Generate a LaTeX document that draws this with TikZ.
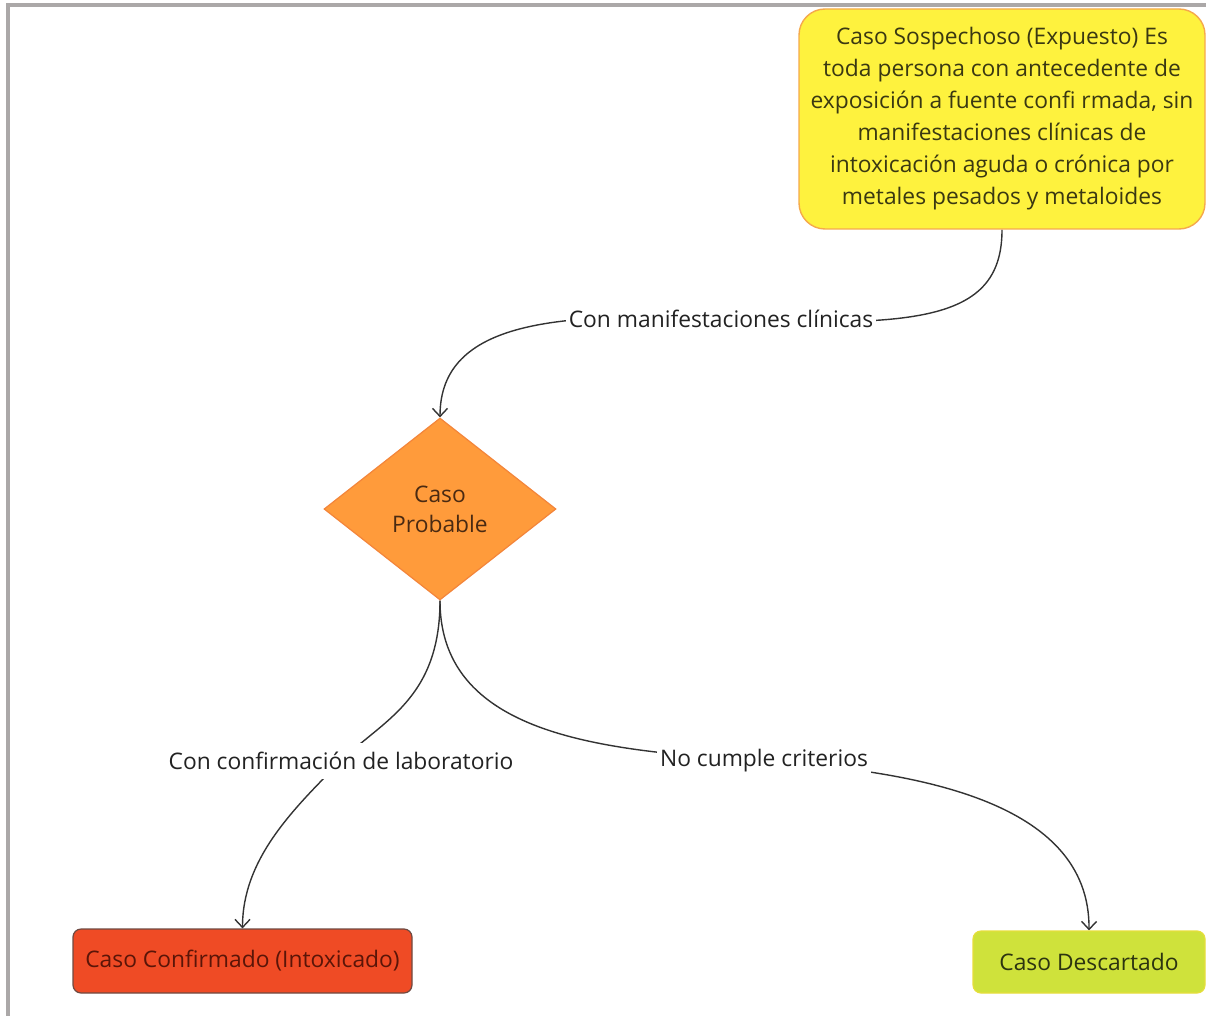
\documentclass[tikz,border=0pt]{standalone}
\usepackage{fontspec}
\setmainfont{Open Sans}
\usetikzlibrary{shapes.geometric,arrows.meta}
\pgfdeclarelayer{background}
\pgfsetlayers{background,main}
\definecolor{framegray}{HTML}{ABA8A8}
\definecolor{yelfill}{HTML}{FEF23E}
\definecolor{yeldraw}{HTML}{F5A94C}
\definecolor{yeltext}{HTML}{3A3812}
\definecolor{orafill}{HTML}{FF9B3B}
\definecolor{oradraw}{HTML}{F3853A}
\definecolor{oratext}{HTML}{4A2A12}
\definecolor{redfill}{HTML}{EF4B25}
\definecolor{reddraw}{HTML}{6E4A42}
\definecolor{redtext}{HTML}{5A1508}
\definecolor{grnfill}{HTML}{CFE23B}
\definecolor{grndraw}{HTML}{E6DE3C}
\definecolor{grntext}{HTML}{2C3410}
\definecolor{linecol}{HTML}{333333}
\definecolor{labtext}{HTML}{222222}
\begin{document}
\begin{tikzpicture}[x=1pt,y=-1pt,
  font=\fontsize{22.8}{32}\selectfont,
  conn/.style={draw=linecol, line width=1.4pt, -{Straight Barb[length=8pt,width=15pt]}},
  lab/.style={fill=white, text=labtext, inner xsep=3pt, inner ysep=9pt},
  startbox/.style={draw=yeldraw, fill=yelfill, text=yeltext, line width=1.4pt, rounded corners=26pt,
    minimum width=406pt, minimum height=220pt, align=center, inner sep=0pt},
  decision/.style={diamond, draw=oradraw, fill=orafill, text=oratext, line width=1.2pt,
    minimum width=232pt, minimum height=182pt, inner sep=0pt, align=center,
    font=\fontsize{22.8}{30}\selectfont},
  redbox/.style={draw=reddraw, fill=redfill, text=redtext, line width=1.2pt, rounded corners=8pt,
    minimum width=339pt, minimum height=64pt, inner sep=0pt},
  grnbox/.style={draw=grndraw, fill=grnfill, text=grntext, line width=1.2pt, rounded corners=8pt,
    minimum width=232pt, minimum height=62pt, inner sep=0pt}
]
\useasboundingbox (0,0) rectangle (1206,1016);
\draw[framegray, line width=4pt] (8,1016) -- (8,5) -- (1206,5);

\node[startbox] (s) at (1002,119) {Caso Sospechoso (Expuesto) Es\\toda persona con antecedente de\\exposición a fuente confi rmada, sin\\manifestaciones clínicas de\\intoxicación aguda o crónica por\\metales pesados y metaloides};
\node[decision] (d) at (440,509) {Caso\\Probable};
\node[redbox] (c) at (242.5,961) {Caso Confirmado (Intoxicado)};
\node[grnbox] (g) at (1089,962) {Caso Descartado};

\node[lab] (l1) at (721,319) {Con manifestaciones clínicas};
\node[lab] (l2) at (341,761) {Con confirmación de laboratorio};
\node[lab] (l3) at (764,761) {No cumple criterios};

\begin{pgfonlayer}{background}
\draw[conn] (s.south) .. controls (1002,320) and (920,328) .. (l1.center)
  .. controls (560,312) and (440,320) .. (d.north);
\draw[conn] (d.south) .. controls (440,700) and (381,721) .. (l2.center)
  .. controls (291,811) and (242.5,860) .. (c.north);
\draw[conn] (d.south) .. controls (440,740) and (614,751) .. (l3.center)
  .. controls (914,771) and (1090,800) .. (g.north);
\end{pgfonlayer}
\end{tikzpicture}
\end{document}
